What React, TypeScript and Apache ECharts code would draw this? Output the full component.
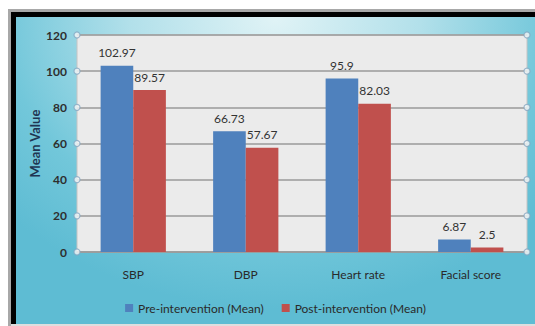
import React, { useEffect, useRef } from "react";
import * as echarts from "echarts";

const categories = ["SBP", "DBP", "Heart rate", "Facial score"];
const preValues = [102.97, 66.73, 95.9, 6.87];
const postValues = [89.57, 57.67, 82.03, 2.5];
const seriesNames = ["Pre-intervention (Mean)", "Post-intervention (Mean)"];
const yTicks = [0, 20, 40, 60, 80, 100, 120];
const yAxisName = "Mean Value";

const FONT = "Lato, 'Liberation Sans', sans-serif";

export default function App() {
  const ref = useRef<HTMLDivElement>(null);

  useEffect(() => {
    document.body.style.overflow = "hidden";
    document.documentElement.style.overflow = "hidden";
    if (!ref.current) return;
    const chart = echarts.init(ref.current, null, { renderer: "svg" });
    const endMarks: number[][] = [];
    yTicks.forEach((t) => {
      endMarks.push([0, t]);
      endMarks.push([1, t]);
    });
    const labelStyle = {
      show: true,
      position: "top" as const,
      distance: 7,
      color: "#333",
      fontSize: 12,
      fontFamily: FONT,
    };
    chart.setOption({
      animation: false,
      backgroundColor: "transparent",
      grid: {
        left: 61,
        right: 8,
        top: 18,
        bottom: 72,
        show: true,
        backgroundColor: "#ebebeb",
        borderColor: "#c4c4c4",
        borderWidth: 1,
      },
      legend: {
        data: seriesNames,
        bottom: 5,
        left: "center",
        icon: "rect",
        itemWidth: 8,
        itemHeight: 8,
        itemGap: 18,
        textStyle: { color: "#2a2a2a", fontSize: 12, fontFamily: FONT },
      },
      xAxis: [
        {
          type: "category",
          data: categories,
          axisTick: { show: false },
          axisLine: { lineStyle: { color: "#9a9a9a", width: 1.5 } },
          axisLabel: { color: "#2a2a2a", fontSize: 12, fontFamily: FONT, margin: 16 },
        },
        { type: "value", min: 0, max: 1, show: false },
      ],
      yAxis: {
        type: "value",
        min: 0,
        max: 120,
        interval: 20,
        name: yAxisName,
        nameLocation: "middle",
        nameGap: 36,
        nameMoveOverlap: false,
        nameTextStyle: { color: "#1f3552", fontSize: 13, fontWeight: "bold", fontFamily: FONT },
        axisLine: { show: false },
        axisTick: { show: false },
        axisLabel: { color: "#2e2e2e", fontSize: 12, fontWeight: "bold", fontFamily: FONT, margin: 10 },
        splitLine: { lineStyle: { color: "#9a9a9a", width: 1.5 } },
      },
      series: [
        {
          name: seriesNames[0],
          type: "bar",
          data: preValues,
          barGap: "0%",
          barCategoryGap: "42%",
          itemStyle: { color: "#4f81bd" },
          label: labelStyle,
        },
        {
          name: seriesNames[1],
          type: "bar",
          data: postValues,
          barGap: "0%",
          barCategoryGap: "42%",
          itemStyle: { color: "#c0504d" },
          label: labelStyle,
        },
        {
          name: "ends",
          type: "scatter",
          xAxisIndex: 1,
          data: endMarks,
          symbol: "circle",
          symbolSize: 6,
          clip: false,
          silent: true,
          z: 5,
          itemStyle: { color: "#f2f6f8", borderColor: "#86a8c2", borderWidth: 1.2 },
        },
      ],
    });
    return () => chart.dispose();
  }, []);

  return (
    <div
      style={{
        position: "fixed",
        left: 8,
        top: 9,
        width: 527,
        height: 317,
        background: "#dedede",
        boxSizing: "border-box",
        borderLeft: "3px solid #a8a8a8",
        borderTop: "3px solid #a8a8a8",
      }}
    >
      <div
        style={{
          position: "absolute",
          left: 0,
          top: 0,
          width: 524,
          height: 312,
          boxSizing: "border-box",
          borderLeft: "5px solid #000",
          borderTop: "5px solid #000",
        }}
      >
        <div
          ref={ref}
          style={{
            width: 519,
            height: 307,
            background:
              "radial-gradient(ellipse 70% 95% at 50% 0%, #e0f3f6 0%, #b2e0ea 40%, #72c7da 75%, #5ebcd3 100%)",
          }}
        />
      </div>
    </div>
  );
}
